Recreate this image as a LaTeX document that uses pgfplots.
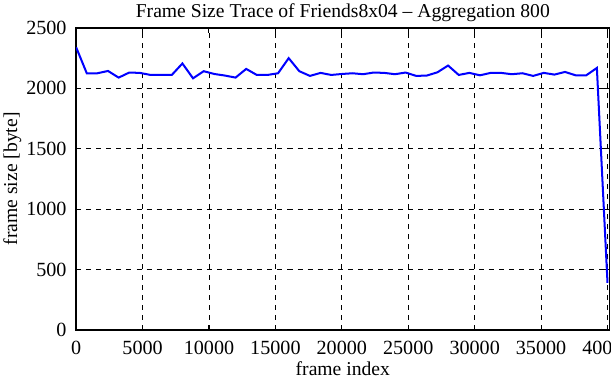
\documentclass[border=0pt]{standalone}
\usepackage{fontspec}
\setmainfont{Liberation Serif}
\usepackage{pgfplots}
\pgfplotsset{compat=1.18}
\begin{document}
\begin{tikzpicture}
\begin{axis}[
  scale only axis,
  width=530pt, height=300pt,
  xmin=0, xmax=40150,
  ymin=0, ymax=2500,
  xtick={0,5000,10000,15000,20000,25000,30000,35000,40000},
  ytick={0,500,1000,1500,2000,2500},
  scaled x ticks=false,
  /pgf/number format/assume math mode=true,
  /pgf/number format/set thousands separator={},
  tick label style={font=\fontsize{20}{22}\selectfont},
  label style={font=\fontsize{19.5}{22}\selectfont},
  title style={font=\fontsize{19.5}{22}\selectfont, yshift=-3pt},
  title={Frame Size Trace of Friends8x04 -- Aggregation 800},
  xlabel={frame index},
  ylabel={frame size [byte]},
  xlabel style={yshift=0pt},
  ylabel style={yshift=-2pt},
  axis line style={line width=1.6pt},
  tick style={line width=1pt, black},
  major tick length=5pt,
  tick align=inside,
  grid=major,
  major grid style={dashed, black, line width=0.8pt, dash pattern=on 5pt off 5pt},
  yticklabel style={xshift=-6pt},
  xticklabel style={yshift=-8pt},
]
\addplot[blue, line width=2pt, mark=none] table {
x y
0 2340
800 2125
1600 2125
2400 2144
3200 2089
4000 2131
4800 2128
5600 2111
6400 2111
7200 2111
8000 2206
8800 2083
9600 2142
10400 2119
11200 2106
12000 2089
12800 2161
13600 2111
14400 2111
15200 2125
16000 2250
16800 2142
17600 2103
18400 2128
19200 2111
20000 2119
20800 2125
21600 2117
22400 2131
23200 2128
24000 2117
24800 2131
25600 2103
26400 2106
27200 2133
28000 2189
28800 2111
29600 2128
30400 2108
31200 2128
32000 2128
32800 2117
33600 2125
34400 2103
35200 2128
36000 2114
36800 2136
37600 2108
38400 2108
39200 2169
40000 390
};
\end{axis}
\pgfresetboundingbox
\useasboundingbox (current axis.outer south west) rectangle ([xshift=1.5pt]current axis.outer north east -| current axis.east);
\end{tikzpicture}
\end{document}
